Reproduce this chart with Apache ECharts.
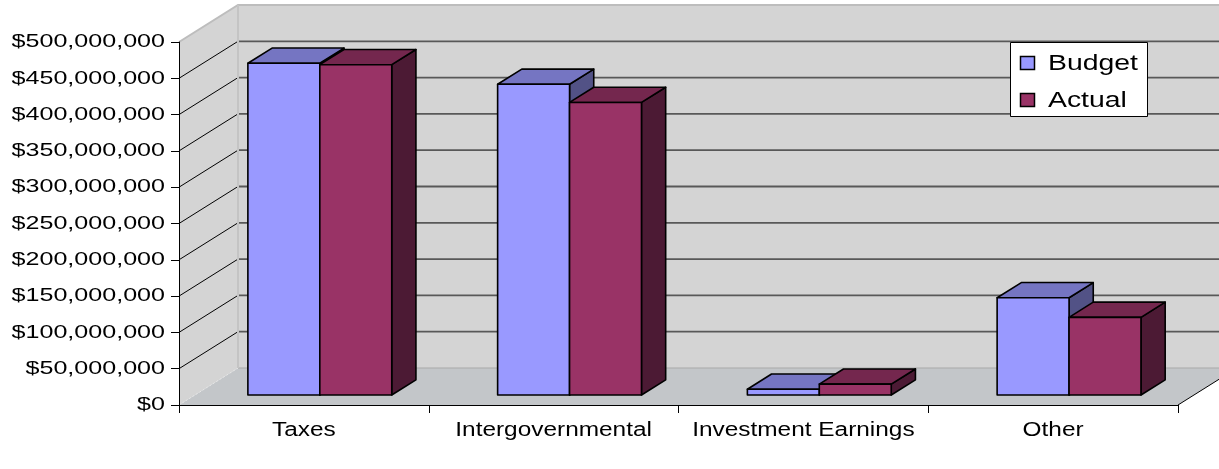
<!DOCTYPE html>
<html>
<head>
<meta charset="utf-8">
<title>Budget vs Actual Revenue</title>
<script src="https://cdn.jsdelivr.net/npm/echarts@6/dist/echarts.min.js"></script>
<style>
  html, body { margin: 0; padding: 0; background: #ffffff; }
  #chart { width: 1219px; height: 469px; }
</style>
</head>
<body>
<div id="chart"></div>
<script>
// Revenue sources and amounts (US dollars)
const categories = ['Taxes', 'Intergovernmental', 'Investment Earnings', 'Other'];
const budget = [457000000, 428000000, 8000000, 134000000];
const actual = [455000000, 403000000, 15000000, 107000000];
const seriesNames = ['Budget', 'Actual'];
const tickValues = [0, 50000000, 100000000, 150000000, 200000000, 250000000,
                    300000000, 350000000, 400000000, 450000000, 500000000];

// Oblique 3D look: full depth of the plot box in pixels
const DX = 59, DY = -37;
// Bars sit between these depth fractions
const F0 = 0.27, F1 = 0.68;
const BAR_FRAC = 0.288;           // width of one bar as a share of a category band
const FONT = '"Liberation Sans", Arial, sans-serif';

const palette = {
  Budget: { front: '#9999FF', top: '#7575C2', side: '#525286' },
  Actual: { front: '#993366', top: '#74274E', side: '#4C1A34' }
};

const yMin = tickValues[0];
const yMax = tickValues[tickValues.length - 1];
const fmtMoney = v => '$' + v.toLocaleString('en-US');

function wallsItem(params, api) {
  const cs = params.coordSys;
  const left = cs.x, right = cs.x + cs.width, bottom = cs.y + cs.height;
  const yAt = v => api.coord([0, v])[1];
  const top = yAt(yMax);
  const kids = [];
  // back wall
  kids.push({ type: 'rect', shape: { x: left + DX, y: top + DY, width: right - left, height: bottom - top },
              style: { fill: '#D4D4D4' } });
  // side wall
  kids.push({ type: 'polygon', shape: { points: [[left, top], [left + DX, top + DY], [left + DX, bottom + DY], [left, bottom]] },
              style: { fill: '#D4D4D4' } });
  // floor
  kids.push({ type: 'polygon', shape: { points: [[left, bottom], [left + DX, bottom + DY], [right + DX, bottom + DY], [right, bottom]] },
              style: { fill: '#C3C6C9' } });
  // gridlines on back wall and side wall
  tickValues.forEach(v => {
    if (v === yMin || v === yMax) return;
    const y = yAt(v);
    kids.push({ type: 'line', shape: { x1: left + DX, y1: y + DY, x2: right + DX, y2: y + DY },
                style: { stroke: '#585858', lineWidth: 1.8 } });
    kids.push({ type: 'line', shape: { x1: left, y1: y, x2: left + DX, y2: y + DY },
                style: { stroke: '#000000', lineWidth: 1 } });
  });
  // floor / back wall seam
  kids.push({ type: 'line', shape: { x1: left + DX, y1: bottom + DY, x2: right + DX, y2: bottom + DY },
              style: { stroke: '#A9A9A9', lineWidth: 1 } });
  // floor / side wall seam
  kids.push({ type: 'line', shape: { x1: left, y1: bottom, x2: left + DX, y2: bottom + DY },
              style: { stroke: '#E6E6E6', lineWidth: 1, lineDash: [2, 2] } });
  // wall outline
  kids.push({ type: 'polyline', shape: { points: [[left, top], [left + DX, top + DY], [right + DX + 20, top + DY]] },
              style: { stroke: '#BDBDBD', lineWidth: 2, fill: null } });
  kids.push({ type: 'line', shape: { x1: left + DX, y1: top + DY, x2: left + DX, y2: bottom + DY },
              style: { stroke: '#C4C4C4', lineWidth: 2 } });
  // floor front-right edge
  kids.push({ type: 'line', shape: { x1: right, y1: bottom, x2: right + DX, y2: bottom + DY },
              style: { stroke: '#000000', lineWidth: 1 } });
  return { type: 'group', children: kids };
}

function boxRenderer(name, side) {
  const col = palette[name];
  return function (params, api) {
    const i = api.value(0), v = api.value(1);
    const p = api.coord([i, v]);
    const p0 = api.coord([i, 0]);
    const band = api.size([1, 0])[0];
    const w = band * BAR_FRAC;
    const sx = DX * F0, sy = DY * F0;
    const x0 = (side < 0 ? p[0] - w : p[0]) + sx;
    const x1 = x0 + w;
    const yT = p[1] + sy, yB = p0[1] + sy;
    const ddx = DX * (F1 - F0), ddy = DY * (F1 - F0);
    const edge = { stroke: '#000000', lineWidth: 1.6, lineJoin: 'round' };
    return {
      type: 'group',
      children: [
        { type: 'polygon', shape: { points: [[x1, yT], [x1 + ddx, yT + ddy], [x1 + ddx, yB + ddy], [x1, yB]] },
          style: Object.assign({ fill: col.side }, edge) },
        { type: 'polygon', shape: { points: [[x0, yT], [x0 + ddx, yT + ddy], [x1 + ddx, yT + ddy], [x1, yT]] },
          style: Object.assign({ fill: col.top }, edge) },
        { type: 'rect', shape: { x: x0, y: yT, width: w, height: yB - yT },
          style: Object.assign({ fill: col.front }, edge) }
      ]
    };
  };
}

function yLabelItem(params, api) {
  const cs = params.coordSys;
  const v = api.value(1);
  const y = api.coord([0, v])[1];
  return {
    type: 'text', x: cs.x - 14, y: y, scaleX: 1.32,
    style: { text: fmtMoney(v), fill: '#000000', fontSize: 19, fontFamily: FONT,
             align: 'right', verticalAlign: 'middle' }
  };
}

function xLabelItem(params, api) {
  const cs = params.coordSys;
  const i = api.value(0);
  const x = api.coord([i, 0])[0];
  return {
    type: 'text', x: x, y: cs.y + cs.height + 25, scaleX: 1.22,
    style: { text: categories[i], fill: '#000000', fontSize: 20, fontFamily: FONT,
             align: 'center', verticalAlign: 'middle' }
  };
}

// Legend box in the upper right of the plot
function legendItem(params, api) {
  const cs = params.coordSys;
  const bx = cs.x + cs.width - 168, by = cs.y;
  const kids = [
    { type: 'rect', shape: { x: bx + 0.5, y: by + 0.5, width: 137, height: 74 },
      style: { fill: '#ffffff', stroke: '#000000', lineWidth: 1 } }
  ];
  seriesNames.forEach((n, k) => {
    const rowY = by + 21 + k * 37;
    kids.push({ type: 'rect', shape: { x: bx + 10.5, y: rowY - 6.5, width: 14, height: 13 },
                style: { fill: palette[n].front, stroke: '#000000', lineWidth: 1.5 } });
    kids.push({ type: 'text', x: bx + 38, y: rowY + 0.5, scaleX: 1.29,
                style: { text: n, fill: '#000000', fontSize: 22, fontFamily: FONT,
                         align: 'left', verticalAlign: 'middle' } });
  });
  return { type: 'group', children: kids };
}

const chart = echarts.init(document.getElementById('chart'), null, { renderer: 'canvas' });

const option = {
  backgroundColor: '#ffffff',
  animation: false,
  grid: { left: 179, right: 41, top: 42, bottom: 64 },
  xAxis: {
    type: 'category', data: categories, z: 10,
    axisLine: { lineStyle: { color: '#000000', width: 1 } },
    axisTick: { show: true, length: 8, lineStyle: { color: '#000000', width: 1 } },
    axisLabel: { show: false },
    splitLine: { show: false }
  },
  yAxis: {
    type: 'value', min: yMin, max: yMax, interval: 50000000, z: 10,
    axisLine: { show: true, lineStyle: { color: '#000000', width: 1 } },
    axisTick: { show: true, length: 8, lineStyle: { color: '#000000', width: 1 } },
    axisLabel: { show: false },
    splitLine: { show: false }
  },
  series: [
    { type: 'custom', name: 'walls', silent: true, z: 1, data: [[0, 0]],
      encode: { x: 0, y: 1 }, renderItem: wallsItem },
    { type: 'custom', name: seriesNames[0], z: 2, data: budget.map((v, i) => [i, v]),
      encode: { x: 0, y: 1 }, renderItem: boxRenderer(seriesNames[0], -1) },
    { type: 'custom', name: seriesNames[1], z: 2, data: actual.map((v, i) => [i, v]),
      encode: { x: 0, y: 1 }, renderItem: boxRenderer(seriesNames[1], 1) },
    { type: 'custom', name: 'yLabels', silent: true, z: 3, data: tickValues.map(v => [0, v]),
      encode: { x: 0, y: 1 }, renderItem: yLabelItem },
    { type: 'custom', name: 'xLabels', silent: true, z: 3, data: categories.map((c, i) => [i, 0]),
      encode: { x: 0, y: 1 }, renderItem: xLabelItem },
    { type: 'custom', name: 'legendBox', silent: true, z: 20, data: [[0, 0]],
      encode: { x: 0, y: 1 }, renderItem: legendItem }
  ]
};

chart.setOption(option);
</script>
</body>
</html>
